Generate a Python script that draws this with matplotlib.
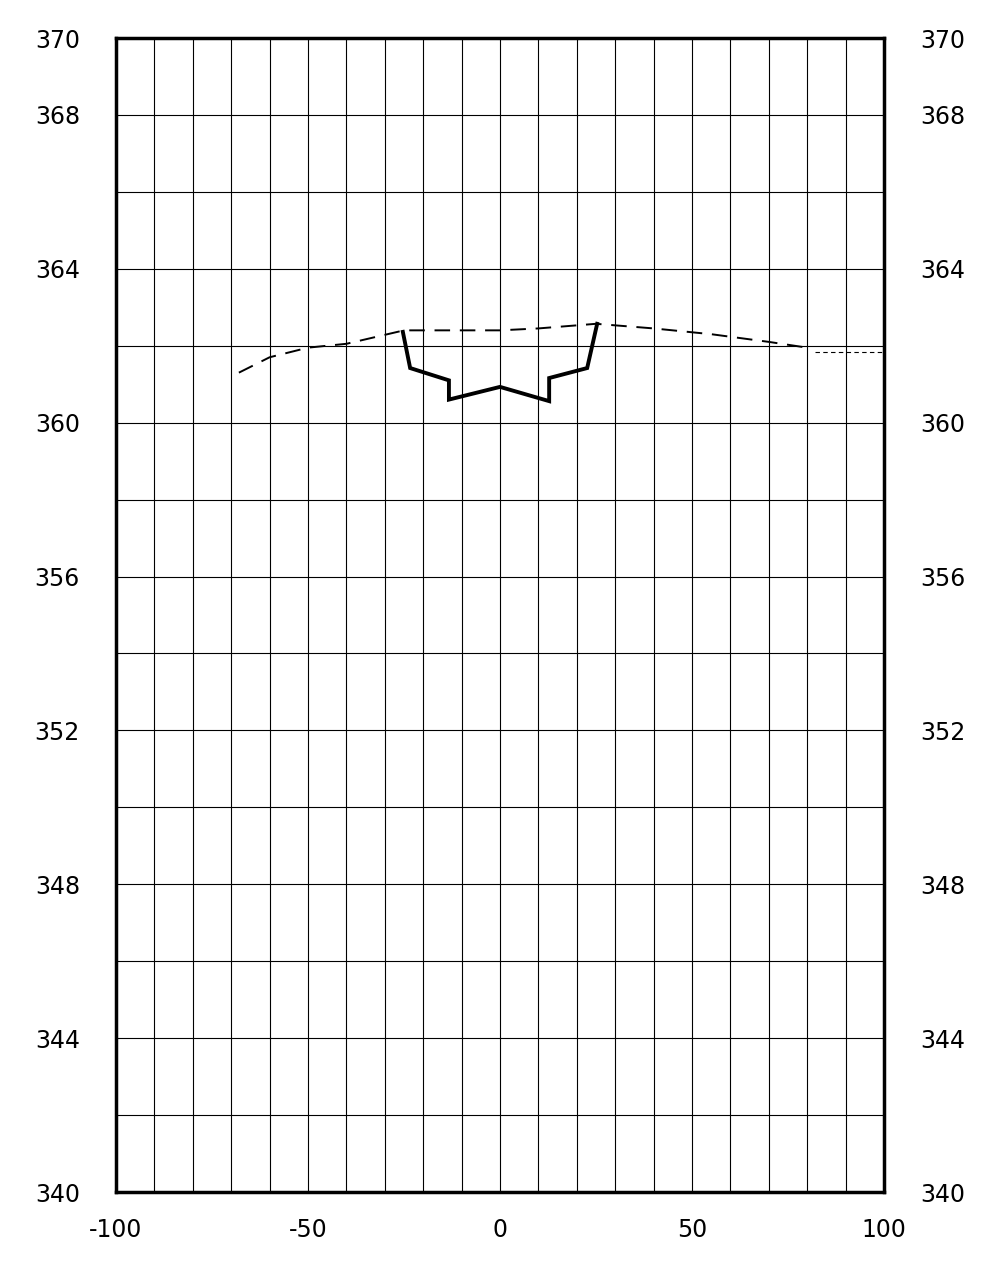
import matplotlib
matplotlib.use("Agg")
import matplotlib.pyplot as plt
import numpy as np

plt.rcParams["axes.unicode_minus"] = False
plt.rcParams["font.family"] = ["DejaVu Sans"]

# Ground line (dashed)
ground_x = [-68, -60, -50, -40, -25, 0, 10, 25, 40, 55, 70, 80]
ground_y = [361.3, 361.7, 361.95, 362.05, 362.4, 362.4, 362.45, 362.57, 362.45, 362.3, 362.1, 361.95]
# faint tail
tail_x = [82, 100]
tail_y = [361.85, 361.85]

# Channel section (solid)
chan_x = [-25.3, -23.4, -13.3, -13.3, 0, 12.8, 12.8, 22.7, 25.3]
chan_y = [362.36, 361.42, 361.1, 360.6, 360.93, 360.56, 361.16, 361.42, 362.57]

y_ticks = [340, 344, 348, 352, 356, 360, 364, 368, 370]
x_ticks = [-100, -50, 0, 50, 100]

fig = plt.figure(figsize=(9.82, 12.72), dpi=100)
ax = fig.add_axes([116/982, 1 - 1192/1272, (884-116)/982, (1192-38)/1272])

ax.set_xlim(-100, 100)
ax.set_ylim(340, 370)

for gx in np.arange(-90, 100, 10):
    ax.axvline(gx, color="black", lw=0.8, zorder=1)
for gy in np.arange(342, 370, 2):
    ax.axhline(gy, color="black", lw=0.8, zorder=1)

ax.plot(ground_x, ground_y, color="black", lw=1.4, dashes=(8, 5), zorder=3)
ax.plot(tail_x, tail_y, color="black", lw=0.8, dashes=(4, 3), zorder=3)
ax.plot(chan_x, chan_y, color="black", lw=2.8, zorder=4, solid_joinstyle="miter")

for s in ax.spines.values():
    s.set_linewidth(2.5)

ax.set_yticks(y_ticks)
ax.set_yticklabels([str(v) for v in y_ticks])
ax.set_xticks(x_ticks)
ax.set_xticklabels([str(v) for v in x_ticks])
ax.tick_params(axis="y", length=0, pad=26, labelsize=17, labelright=True, right=False)
ax.tick_params(axis="x", length=0, pad=19, labelsize=17)

fig.savefig("out.png", dpi=100)
